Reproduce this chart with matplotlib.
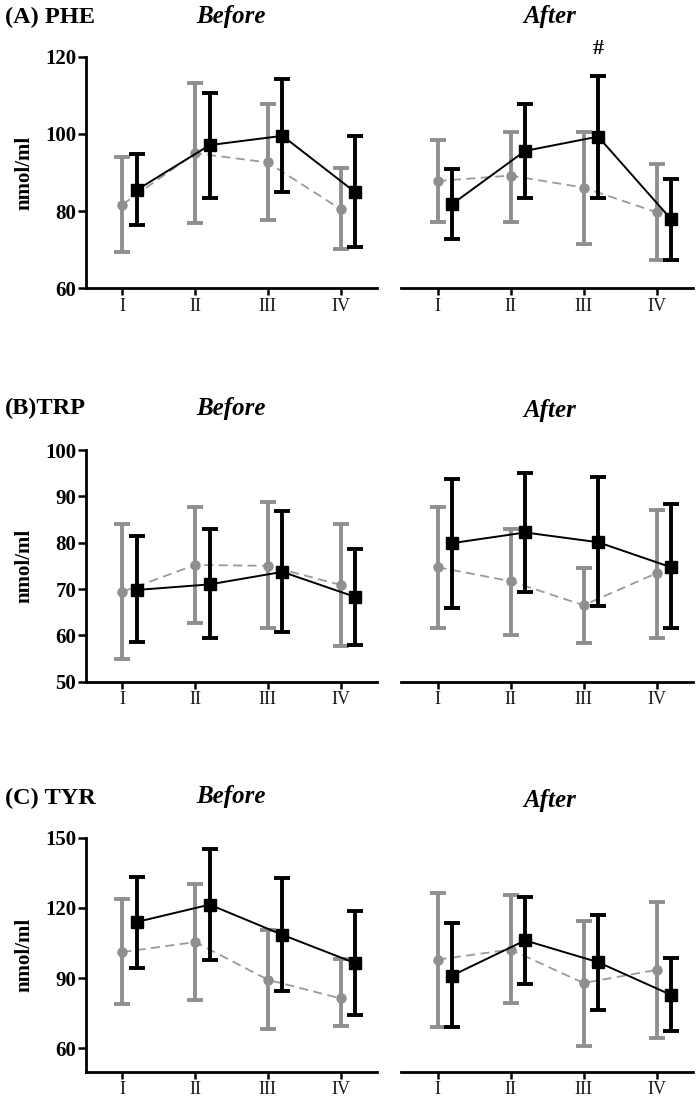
import matplotlib
matplotlib.use("Agg")
import matplotlib.pyplot as plt
import numpy as np

plt.rcParams['font.family'] = ['Liberation Serif', 'DejaVu Serif']

categories = ["I", "II", "III", "IV"]

# (A) PHE
phe_before_grey = [81.7, 95.0, 92.6, 80.5]
phe_before_grey_lo = [69.5, 77.0, 77.7, 70.3]
phe_before_grey_hi = [94.1, 113.1, 107.7, 91.1]
phe_before_black = [85.5, 97.1, 99.5, 84.9]
phe_before_black_lo = [76.4, 83.3, 85.0, 70.8]
phe_before_black_hi = [94.7, 110.5, 114.2, 99.5]
phe_after_grey = [87.8, 89.2, 86.1, 79.7]
phe_after_grey_lo = [77.3, 77.3, 71.6, 67.3]
phe_after_grey_hi = [98.4, 100.6, 100.6, 92.1]
phe_after_black = [81.8, 95.6, 99.3, 77.9]
phe_after_black_lo = [72.9, 83.3, 83.3, 67.3]
phe_after_black_hi = [90.8, 107.7, 115.0, 88.2]

# (B) TRP
trp_before_grey = [69.4, 75.2, 75.0, 70.9]
trp_before_grey_lo = [55.0, 62.6, 61.5, 57.8]
trp_before_grey_hi = [84.0, 87.8, 88.7, 84.0]
trp_before_black = [69.8, 71.0, 73.7, 68.3]
trp_before_black_lo = [58.6, 59.4, 60.8, 57.9]
trp_before_black_hi = [81.5, 82.9, 86.8, 78.6]
trp_after_grey = [74.7, 71.7, 66.5, 73.4]
trp_after_grey_lo = [61.5, 60.1, 58.4, 59.5]
trp_after_grey_hi = [87.8, 82.9, 74.5, 87.1]
trp_after_black = [79.9, 82.2, 80.1, 74.7]
trp_after_black_lo = [66.0, 69.4, 66.4, 61.5]
trp_after_black_hi = [93.7, 95.1, 94.1, 88.3]

# (C) TYR
tyr_before_grey = [101.1, 105.4, 89.3, 81.3]
tyr_before_grey_lo = [78.9, 80.6, 68.2, 69.6]
tyr_before_grey_hi = [124.0, 130.4, 110.7, 98.2]
tyr_before_black = [114.0, 121.4, 108.5, 96.4]
tyr_before_black_lo = [94.3, 97.8, 84.3, 74.3]
tyr_before_black_hi = [133.3, 145.0, 132.8, 118.7]
tyr_after_grey = [97.9, 102.2, 87.9, 93.5]
tyr_after_grey_lo = [69.3, 79.3, 61.0, 64.2]
tyr_after_grey_hi = [126.4, 125.4, 114.4, 122.5]
tyr_after_black = [91.1, 106.1, 96.8, 82.8]
tyr_after_black_lo = [69.2, 87.5, 76.5, 67.2]
tyr_after_black_hi = [113.5, 124.7, 117.1, 98.5]

row_titles = ["(A) PHE", "(B)TRP", "(C) TYR"]
panel_titles = ["Before", "After"]
ylims = [(60, 120), (50, 100), (50, 150)]
yticks = [[60, 80, 100, 120], [50, 60, 70, 80, 90, 100], [60, 90, 120, 150]]
ylabel = "nmol/ml"

data = [
    [(phe_before_grey, phe_before_grey_lo, phe_before_grey_hi, phe_before_black, phe_before_black_lo, phe_before_black_hi),
     (phe_after_grey, phe_after_grey_lo, phe_after_grey_hi, phe_after_black, phe_after_black_lo, phe_after_black_hi)],
    [(trp_before_grey, trp_before_grey_lo, trp_before_grey_hi, trp_before_black, trp_before_black_lo, trp_before_black_hi),
     (trp_after_grey, trp_after_grey_lo, trp_after_grey_hi, trp_after_black, trp_after_black_lo, trp_after_black_hi)],
    [(tyr_before_grey, tyr_before_grey_lo, tyr_before_grey_hi, tyr_before_black, tyr_before_black_lo, tyr_before_black_hi),
     (tyr_after_grey, tyr_after_grey_lo, tyr_after_grey_hi, tyr_after_black, tyr_after_black_lo, tyr_after_black_hi)],
]

W, H = 699, 1098
fig = plt.figure(figsize=(W / 100, H / 100), dpi=100)

rows_px = [(56.7, 288.3), (450.0, 681.7), (837.7, 1071.7)]
cols_px = [(86, 377), (401, 693)]
title_y_px = [(17, 17, 17), (408, 408, 410), (798, 797, 800)]

grey = "#8f8f8f"
grey_line = "#9a9a9a"
black = "#000000"
offset = 0.2
x = np.arange(1, len(categories) + 1)

for r in range(3):
    top, bot = rows_px[r]
    for c in range(2):
        l, rr = cols_px[c]
        ax = fig.add_axes([l / W, 1 - bot / H, (rr - l) / W, (bot - top) / H])
        g, glo, ghi, b, blo, bhi = data[r][c]
        g = np.array(g); glo = np.array(glo); ghi = np.array(ghi)
        b = np.array(b); blo = np.array(blo); bhi = np.array(bhi)
        ax.plot(x, g, ls=(0, (5, 3)), color=grey_line, lw=1.3, zorder=2)
        ax.errorbar(x, g, yerr=[g - glo, ghi - g], fmt='o', color=grey, ms=6.5,
                    elinewidth=2.8, capsize=5.5, capthick=2.8, zorder=3)
        ax.plot(x + offset, b, ls='-', color=black, lw=1.4, zorder=4)
        ax.errorbar(x + offset, b, yerr=[b - blo, bhi - b], fmt='s', color=black, ms=8,
                    elinewidth=2.8, capsize=5.5, capthick=2.8, zorder=5)
        ax.set_xlim(0.5, 4.5)
        ax.set_ylim(*ylims[r])
        ax.set_xticks(x)
        ax.set_xticklabels(categories, fontsize=13, color="#1a1a1a")
        for s in ["top", "right"]:
            ax.spines[s].set_visible(False)
        ax.spines["bottom"].set_linewidth(2)
        ax.tick_params(axis='x', length=5, width=1.8, pad=2)
        ax.patch.set_alpha(0)
        if c == 0:
            ax.spines["left"].set_linewidth(2)
            ax.set_yticks(yticks[r])
            ax.set_yticklabels([str(t) for t in yticks[r]], fontsize=15, fontweight='bold')
            ax.tick_params(axis='y', length=6, width=1.8, pad=1)
            ax.set_ylabel(ylabel, fontsize=15, fontweight='bold', labelpad=8)
        else:
            ax.spines["left"].set_visible(False)
            ax.set_yticks([])
        if r == 0 and c == 1:
            ax.annotate("#", xy=(3 + offset, phe_after_black_hi[2]), xytext=(0, 12),
                        textcoords='offset points', ha='center', va='bottom',
                        fontsize=16, fontweight='bold')

    ty = title_y_px[r]
    fig.text(5 / W, 1 - ty[0] / H, row_titles[r], fontsize=17.5, fontweight='bold',
             ha='left', va='center')
    fig.text(231 / W, 1 - ty[1] / H, panel_titles[0], fontsize=18, fontweight='bold',
             fontstyle='italic', ha='center', va='center')
    fig.text(550 / W, 1 - ty[2] / H, panel_titles[1], fontsize=18, fontweight='bold',
             fontstyle='italic', ha='center', va='center')

fig.savefig("out.png", dpi=100, facecolor="white")
